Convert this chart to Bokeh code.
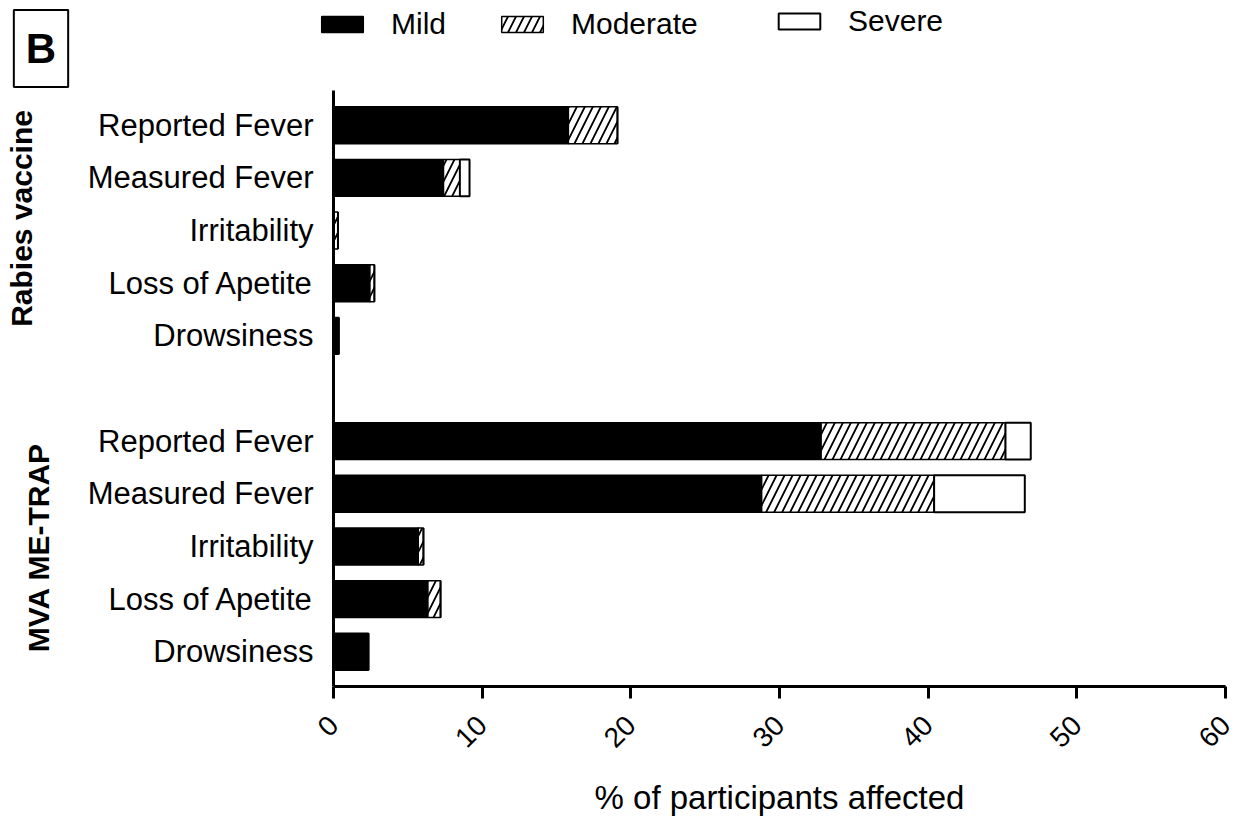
import math
from bokeh.plotting import figure
from bokeh.layouts import column, row
from bokeh.models import (ColumnDataSource, Range1d, FixedTicker, Label, Legend,
                          LegendItem)
from bokeh.embed import file_html
from bokeh.resources import INLINE

# Symptom categories (same order for both vaccine groups)
categories = ["Reported Fever", "Measured Fever", "Irritability",
              "Loss of Apetite", "Drowsiness"]

# % of participants affected, by severity
rabies_mild = [15.8, 7.4, 0.0, 2.45, 0.35]
rabies_moderate = [3.3, 1.1, 0.3, 0.3, 0.0]
rabies_severe = [0.0, 0.65, 0.0, 0.0, 0.0]

mva_mild = [32.8, 28.8, 5.7, 6.35, 2.35]
mva_moderate = [12.4, 11.6, 0.35, 0.85, 0.0]
mva_severe = [1.7, 6.1, 0.0, 0.0, 0.0]

groups = ["Rabies vaccine", "MVA ME-TRAP"]
severities = ["Mild", "Moderate", "Severe"]
x_ticks = [0, 10, 20, 30, 40, 50, 60]

FONT = "Liberation Sans"

# row slots: rabies rows 0-4, blank slot 5, MVA rows 6-10
rows, labels, mild, moderate, severe = [], [], [], [], []
for g, (mi, mo, se) in enumerate([(rabies_mild, rabies_moderate, rabies_severe),
                                  (mva_mild, mva_moderate, mva_severe)]):
    for i, cat in enumerate(categories):
        rows.append(g * 6 + i)
        labels.append(cat)
        mild.append(mi[i])
        moderate.append(mo[i])
        severe.append(se[i])

mild_end = mild
mod_end = [a + b for a, b in zip(mild, moderate)]
sev_end = [a + b for a, b in zip(mod_end, severe)]
source = ColumnDataSource(dict(y=rows, zero=[0] * len(rows), mild_end=mild_end,
                               mod_end=mod_end, sev_end=sev_end))

# bar styles per severity
STYLES = {
    "Mild": dict(fill_color="black", line_color="black", line_width=1.5),
    "Moderate": dict(fill_color="white", line_color="black", line_width=1.5,
                     hatch_pattern="/", hatch_color="black", hatch_scale=16,
                     hatch_weight=1.8),
    "Severe": dict(fill_color="white", line_color="black", line_width=2),
}

y_range = Range1d(10.66, -0.66)

# ---- main chart ----
p = figure(width=1186, height=730, output_backend="svg", toolbar_location=None,
           x_range=Range1d(0, 60), y_range=y_range,
           min_border_left=273, min_border_right=21, min_border_top=0,
           min_border_bottom=134)
p.outline_line_color = None
p.xgrid.visible = False
p.ygrid.visible = False

BAR_H = 0.7
p.hbar(y="y", left="zero", right="mild_end", height=BAR_H, source=source,
       **STYLES["Mild"])
p.hbar(y="y", left="mild_end", right="mod_end", height=BAR_H, source=source,
       **STYLES["Moderate"])
p.hbar(y="y", left="mod_end", right="sev_end", height=BAR_H, source=source,
       **STYLES["Severe"])

xa = p.xaxis[0]
xa.ticker = FixedTicker(ticks=x_ticks)
xa.minor_tick_line_color = None
xa.axis_line_width = 3
xa.major_tick_line_width = 3
xa.major_tick_in = 0
xa.major_tick_out = 12
xa.major_label_orientation = math.pi / 4
xa.major_label_text_font = FONT
xa.major_label_text_font_size = "28px"
xa.major_label_text_color = "black"
xa.major_label_standoff = 22
xa.axis_label = "% of participants affected"
xa.axis_label_text_font = FONT
xa.axis_label_text_font_size = "33px"
xa.axis_label_text_font_style = "normal"
xa.axis_label_text_color = "black"
xa.axis_label_standoff = 20

ya = p.yaxis[0]
ya.ticker = FixedTicker(ticks=rows)
ya.major_label_overrides = {r: l for r, l in zip(rows, labels)}
ya.axis_line_width = 3
ya.major_tick_line_color = None
ya.minor_tick_line_color = None
ya.major_tick_out = 0
ya.major_tick_in = 0
ya.major_label_standoff = 20
ya.major_label_text_font = FONT
ya.major_label_text_font_size = "31px"
ya.major_label_text_color = "black"

# ---- group titles strip on the far left ----
side = figure(width=60, height=730, output_backend="svg", toolbar_location=None,
              x_range=Range1d(0, 60), y_range=y_range,
              min_border_left=0, min_border_right=0, min_border_top=0,
              min_border_bottom=134)
side.outline_line_color = None
side.axis.visible = False
side.grid.visible = False
for text, x, y in [(groups[0], 21, 1.77), (groups[1], 38, 8.02)]:
    side.add_layout(Label(x=x, y=y, text=text, angle=math.pi / 2,
                          text_align="center", text_baseline="middle",
                          text_font=FONT, text_font_size="30px",
                          text_font_style="bold", text_color="black"))

# ---- header strip: panel letter and legend ----
head = figure(width=1246, height=90, output_backend="svg", toolbar_location=None,
              x_range=Range1d(0, 1246), y_range=Range1d(90, 0),
              min_border=0)
head.outline_line_color = None
head.axis.visible = False
head.grid.visible = False

head.add_layout(Label(x=40.5, y=48, text="B", text_align="center",
                      text_baseline="middle", text_font=FONT,
                      text_font_size="42px", text_font_style="bold",
                      text_color="black", border_line_color="black",
                      border_line_width=2, background_fill_color="white",
                      padding=dict(left=12, right=12, top=15, bottom=15)))

# hidden proxy renderers that only supply the legend swatches
proxy = ColumnDataSource(dict(y=[0], left=[0], right=[1]))
for name, loc in [("Mild", (316, 49)), ("Moderate", (496, 49)),
                  ("Severe", (773, 52))]:
    rend = head.hbar(y="y", left="left", right="right", height=1, source=proxy,
                     **STYLES[name])
    rend.visible = False
    lg = Legend(items=[LegendItem(label=name, renderers=[rend], index=0)],
                location=loc, orientation="horizontal",
                glyph_width=52, glyph_height=20, label_standoff=23,
                label_text_font=FONT, label_text_font_size="30px",
                label_text_color="black", label_height=20,
                padding=0, margin=0, spacing=0, click_policy="none",
                border_line_color=None, background_fill_alpha=0)
    head.add_layout(lg)

layout = column(head, row(side, p))
open("out.html", "w").write(file_html(layout, INLINE))
